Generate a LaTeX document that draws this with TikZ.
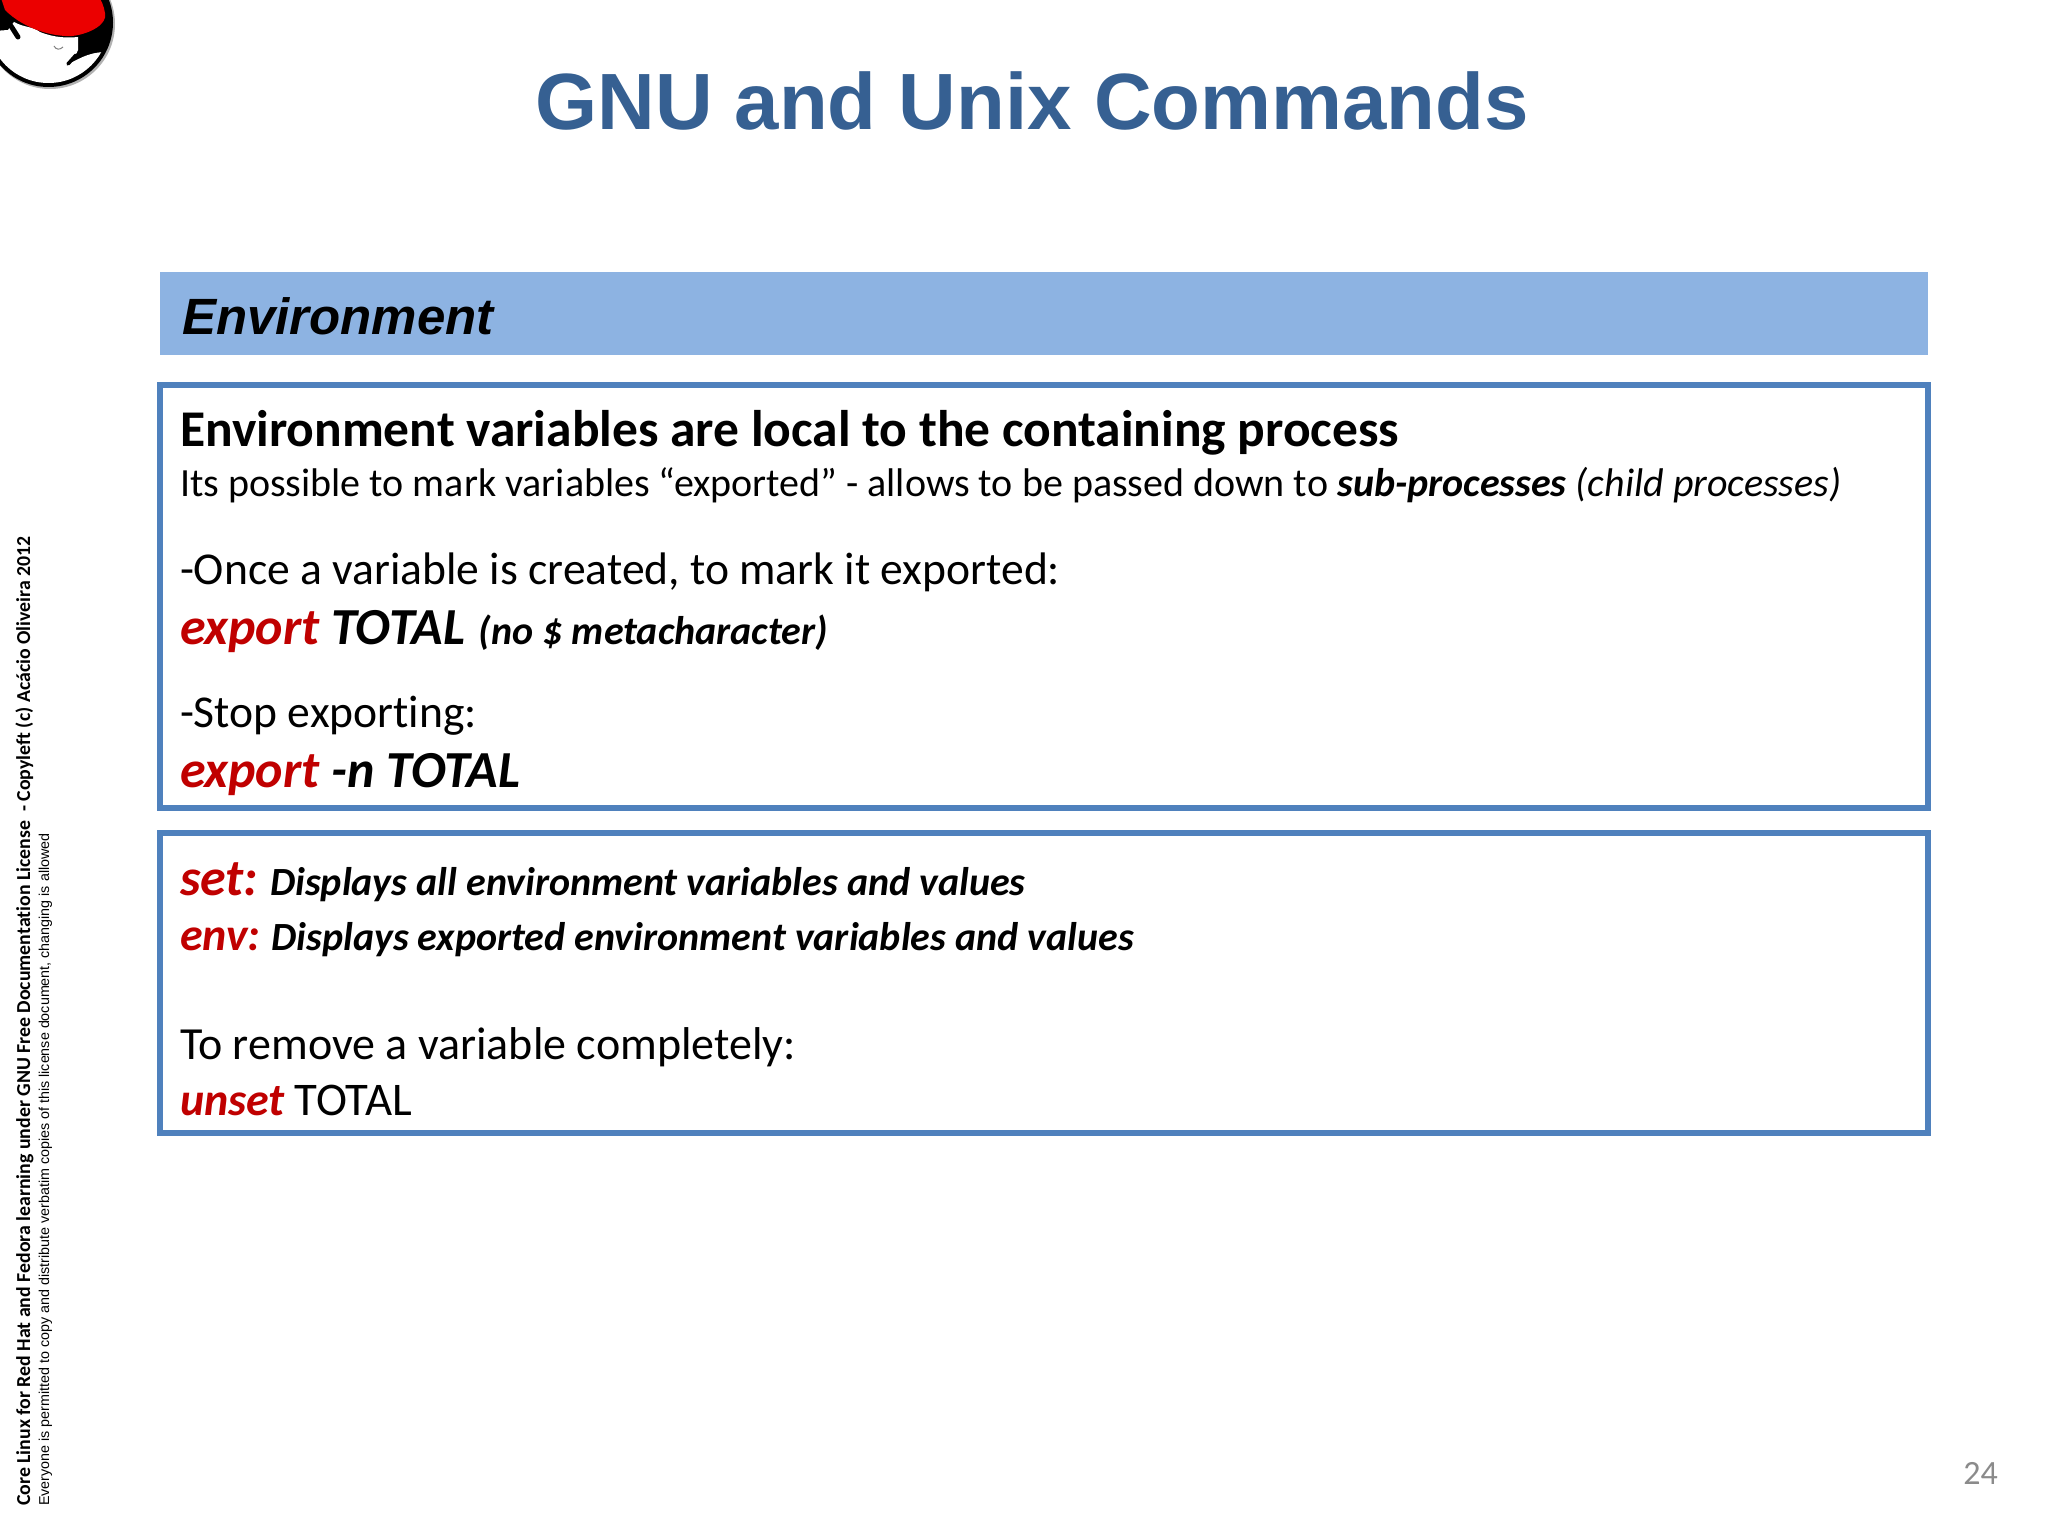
\documentclass[tikz,border=0pt]{standalone}
\usepackage{fontspec}
\setmainfont[Ligatures=CommonOff]{Carlito}
\newfontfamily\arialf{Liberation Sans}
\definecolor{titleblue}{HTML}{366092}
\definecolor{headblue}{HTML}{8DB3E2}
\definecolor{boxblue}{HTML}{4F81BD}
\definecolor{cmdred}{HTML}{C00000}
\definecolor{pagegray}{HTML}{8B8B8B}
\newcommand{\fsz}[1]{\fontsize{#1}{#1}\selectfont}
\newcommand{\cmd}[1]{\textcolor{cmdred}{\textbf{\textit{#1}}}}
\tikzset{
  txt/.style={anchor=base west,inner sep=0pt,outer sep=0pt,text=black},
  panel/.style={draw=boxblue,line width=5.5pt,fill=white},
  sidetxt/.style={anchor=base west,inner sep=0pt,rotate=90,text=black}
}
\begin{document}
\begin{tikzpicture}[x=1pt,y=-1pt]
\useasboundingbox (0,0) rectangle (2048,1536);
\fill[white] (0,0) rectangle (2048,1536);
% logo
\begin{scope}
\clip (0,0) rectangle (2048,1536);
\fill[gray!60] (50,24) circle (65);
\fill[black] (48.5,22.5) circle (64.5);
\begin{scope}
\clip (48.5,22.5) circle (60.5);
\fill[white] (-20,32) -- (8,30) -- (14,22) .. controls (25,28) and (32,26) .. (40,32) .. controls (55,38) and (68,38) .. (78,37) -- (78,50) .. controls (76,56) and (72,60) .. (68,64) .. controls (78,60) and (86,53) .. (104,52) -- (110,100) -- (-20,100) -- cycle;
\end{scope}
\draw[black,line width=5pt,line cap=round] (11,26) -- (18,37);
\draw[black,line width=3.5pt,line cap=round] (68,64) -- (76,55);
\fill[red!92!black] (0,-5) -- (5,10) .. controls (25,30) and (55,37) .. (72,36) .. controls (90,34) and (108,24) .. (105,13) .. controls (104,6) and (101,0) .. (98,-5) -- cycle;
\draw[gray,line width=1pt] (54,46) .. controls (56,50) and (60,50) .. (63,47);
\end{scope}
% title
\node[anchor=base,inner sep=0pt,text=titleblue] (title) at (1032,130) {\arialf\bfseries\fsz{79.8}GNU and Unix Commands};
% header
\fill[headblue] (160,272) rectangle (1928,355);
\node[txt] (head) at (182,334) {\arialf\bfseries\itshape\fsz{51}Environment};
% panels
\draw[panel] (160,385) rectangle (1928,808);
\draw[panel] (160,833) rectangle (1928,1133);
% first panel text
\node[txt] (a1) at (180,446) {\bfseries\fsz{51.5}Environment variables are local to the containing process};
\node[txt] (a2) at (180,496) {\fsz{40}Its possible to mark variables “exported” - allows to be passed down to \textbf{\textit{sub-processes}} \textit{(child processes)}};
\node[txt] (a3) at (180,584) {\fsz{45.6}-Once a variable is created, to mark it exported:};
\node[txt] (a4) at (180,644) {\bfseries\itshape\fsz{52}\textcolor{cmdred}{export} TOTAL\hspace{2pt} \fsz{40}(no \$ metacharacter)};
\node[txt] (a5) at (180,727) {\fsz{45.6}-Stop exporting:};
\node[txt] (a6) at (180,787) {\bfseries\itshape\fsz{52}\textcolor{cmdred}{export} -n TOTAL};
% second panel text
\node[txt] (b1) at (180,895) {\bfseries\itshape\fsz{52}\textcolor{cmdred}{set:}\fsz{40} Displays all environment variables and values};
\node[txt] (b2) at (180,950) {\bfseries\itshape\fsz{46}\textcolor{cmdred}{env:}\fsz{40}\hspace{-1pt} Displays exported environment variables and values};
\node[txt] (b3) at (180,1059) {\fsz{46}To remove a variable completely:};
\node[txt] (b4) at (180,1115) {\fsz{46}\cmd{unset} \hspace{-1pt}\fsz{46.8}TOTAL};
% page number
\node[anchor=base east,inner sep=0pt,text=pagegray] (pg) at (1998,1484) {\fsz{34}24};
% side text
\node[sidetxt] (s1) at (30,1506) {\bfseries\fsz{19.8}Core Linux for Red Hat and Fedora learning under GNU Free Documentation License\ \ - Copyleft (c) Acácio Oliveira 2012};
\node[sidetxt] (s2) at (49,1506) {\arialf\fsz{14.3}Everyone is permitted to copy and distribute verbatim copies of this license document, changing is allowed};
\end{tikzpicture}
\end{document}
